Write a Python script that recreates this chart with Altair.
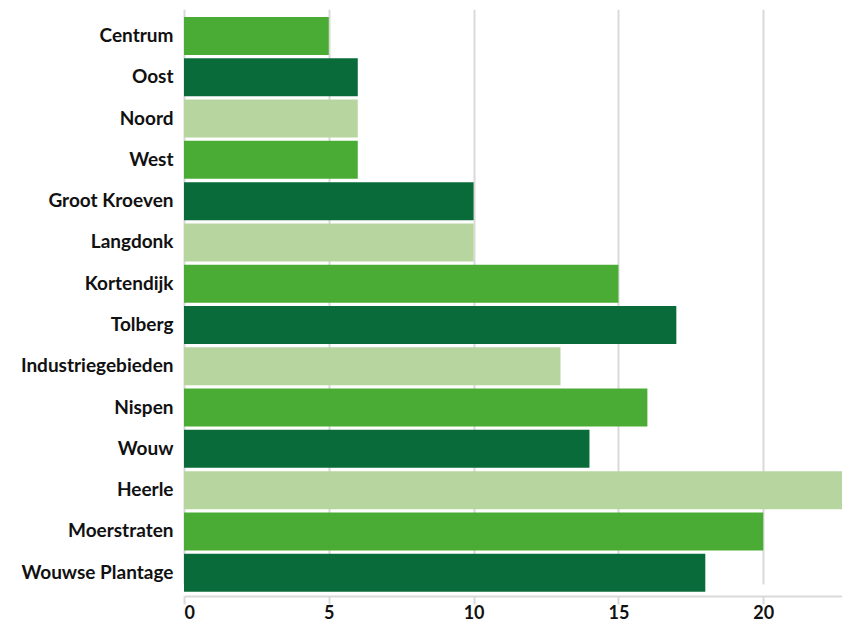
import altair as alt
import pandas as pd

wijken = ["Centrum", "Oost", "Noord", "West", "Groot Kroeven", "Langdonk",
          "Kortendijk", "Tolberg", "Industriegebieden", "Nispen", "Wouw",
          "Heerle", "Moerstraten", "Wouwse Plantage"]
waarden = [5, 6, 6, 6, 10, 10, 15, 17, 13, 16, 14, 23, 20, 18]
kleurgroep = ["a", "b", "c", "a", "b", "c", "a", "b", "c", "a", "b", "c", "a", "b"]
kleuren = ["#4BAC35", "#096B3A", "#B6D59F"]
x_ticks = [0, 5, 10, 15, 20]

df = pd.DataFrame({"wijk": wijken, "waarde": waarden, "groep": kleurgroep})

font = "Lato"

chart = alt.Chart(df).mark_bar(clip=True).encode(
    y=alt.Y("wijk:N", sort=None, title=None,
            scale=alt.Scale(range=[12, 586.7], paddingInner=0.08, paddingOuter=0),
            axis=alt.Axis(domain=False, ticks=False, grid=False,
                          labelFont=font, labelFontSize=19, labelFontWeight="bold",
                          labelColor="#111111", labelPadding=11)),
    x=alt.X("waarde:Q", title=None,
            scale=alt.Scale(domain=[0, 22.72], nice=False, zero=True),
            axis=alt.Axis(values=x_ticks, grid=True, gridColor="#d9d9d9", gridWidth=2,
                          domain=True, domainColor="#d9d9d9", domainWidth=2,
                          ticks=True, tickColor="#d9d9d9", tickWidth=2, tickSize=8,
                          labelFont=font, labelFontSize=18, labelFontWeight="bold",
                          labelColor="#111111", labelPadding=0)),
    color=alt.Color("groep:N", legend=None,
                    scale=alt.Scale(domain=["a", "b", "c"], range=kleuren)),
).properties(
    width=658, height=591,
    padding={"left": 176, "top": -3, "right": 0, "bottom": 26},
    autosize=alt.AutoSizeParams(type="none"),
).configure_view(stroke=None)

chart.save("out.html", embed_options={"renderer": "svg", "actions": False})
